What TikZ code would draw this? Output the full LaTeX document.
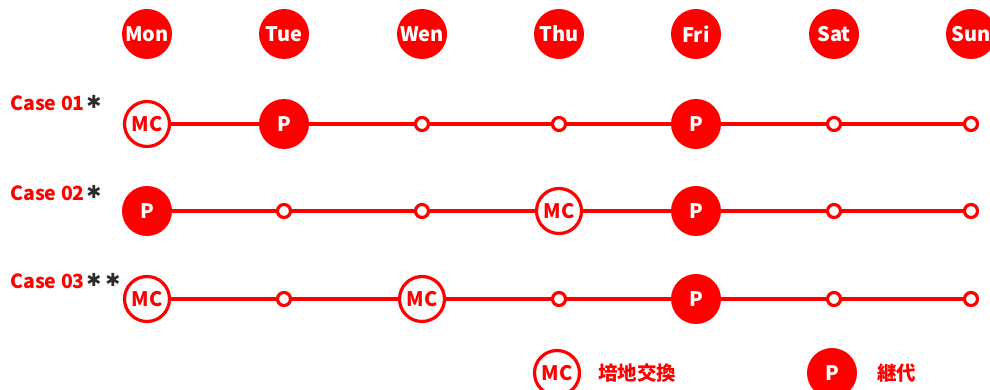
\documentclass[tikz,border=0pt]{standalone}
\usepackage{fontspec}
\setmainfont{Noto Sans CJK JP}
\newfontfamily\symfont{DejaVu Sans}
\definecolor{cred}{RGB}{255,0,0}
\definecolor{star}{RGB}{45,45,45}
\begin{document}
\begin{tikzpicture}[x=1pt,y=-1pt,
  day/.style={circle,fill=cred,text=white,minimum size=50pt,inner sep=0pt,font=\fontsize{20}{20}\selectfont\bfseries},
  pbig/.style={circle,fill=cred,text=white,minimum size=50pt,inner sep=0pt,font=\fontsize{20}{20}\selectfont\bfseries},
  mcbig/.style={circle,draw=cred,line width=3.2pt,fill=white,text=cred,minimum size=45pt,inner sep=0pt,font=\fontsize{20}{20}\selectfont\bfseries},
  dot/.style={circle,draw=cred,line width=3.2pt,fill=white,minimum size=13pt,inner sep=0pt},
  caselbl/.style={anchor=west,text=cred,inner sep=0pt,font=\fontsize{19.5}{19.5}\selectfont\bfseries},
  starlbl/.style={text=star,inner sep=0pt,font=\fontsize{18}{18}\selectfont\symfont},
  leg/.style={anchor=west,text=cred,inner sep=0pt,font=\fontsize{19.5}{19.5}\selectfont\bfseries},
  conn/.style={draw=cred,line width=3.2pt}]
\useasboundingbox (0,0) rectangle (990,390);
\clip (0,0) rectangle (990,390);
% days
\node[day] (mon) at (147,34) {Mon};
\node[day] (tue) at (284,34) {Tue};
\node[day] (wen) at (422,34) {Wen};
\node[day] (thu) at (559,34) {Thu};
\node[day] (fri) at (696,34) {Fri};
\node[day] (sat) at (834,34) {Sat};
\node[day] (sun) at (971,34) {Sun};
% case labels
\node[caselbl] (c1) at (10,103) {Case 01};
\node[starlbl] (s1) at (94,102) {✱};
\node[caselbl] (c2) at (10,193) {Case 02};
\node[starlbl] (s2) at (94,192) {✱};
\node[caselbl] (c3) at (10,281) {Case 03};
\node[starlbl] (s3a) at (94,280) {✱};
\node[starlbl] (s3b) at (113,280) {✱};
% row 1
\node[mcbig] (a1) at (147,124) {MC};
\node[pbig] (a2) at (284,124) {P};
\node[dot] (a3) at (422,124) {};
\node[dot] (a4) at (559,124) {};
\node[pbig] (a5) at (696,124) {P};
\node[dot] (a6) at (834,124) {};
\node[dot] (a7) at (971,124) {};
% row 2
\node[pbig] (b1) at (147,211) {P};
\node[dot] (b2) at (284,211) {};
\node[dot] (b3) at (422,211) {};
\node[mcbig] (b4) at (559,211) {MC};
\node[pbig] (b5) at (696,211) {P};
\node[dot] (b6) at (834,211) {};
\node[dot] (b7) at (971,211) {};
% row 3
\node[mcbig] (d1) at (147,299) {MC};
\node[dot] (d2) at (284,299) {};
\node[mcbig] (d3) at (422,299) {MC};
\node[dot] (d4) at (559,299) {};
\node[pbig] (d5) at (696,299) {P};
\node[dot] (d6) at (834,299) {};
\node[dot] (d7) at (971,299) {};
% connectors
\foreach \r in {a,b,d}{
  \draw[conn] (\r1) -- (\r2);
  \draw[conn] (\r2) -- (\r3);
  \draw[conn] (\r3) -- (\r4);
  \draw[conn] (\r4) -- (\r5);
  \draw[conn] (\r5) -- (\r6);
  \draw[conn] (\r6) -- (\r7);
}
% legend
\node[mcbig] (lmc) at (557,373) {MC};
\node[leg] (lmct) at (598,373) {培地交換};
\node[pbig] (lp) at (832,373) {P};
\node[leg] (lpt) at (877,373) {継代};
\end{tikzpicture}
\end{document}
